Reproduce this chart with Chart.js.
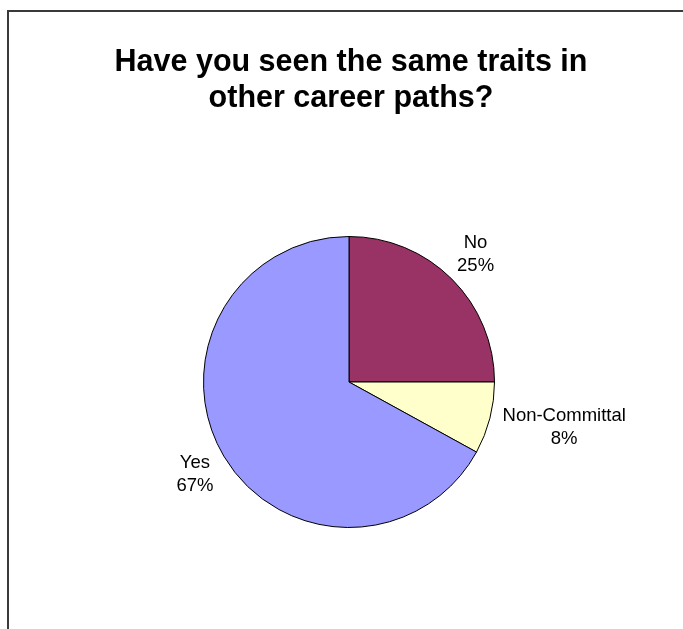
<!DOCTYPE html>
<html>
<head>
<meta charset="utf-8">
<style>
  html, body { margin: 0; padding: 0; background: #ffffff; }
  #wrap { width: 683px; height: 629px; position: relative; }
</style>
<script src="https://cdn.jsdelivr.net/npm/chart.js@4.4.1/dist/chart.umd.min.js"></script>
</head>
<body>
<div id="wrap"><canvas id="chart" width="683" height="629"></canvas></div>
<script>
// Survey answers, in percent
const categories = ['No', 'Non-Committal', 'Yes'];
const percents = [25, 8, 67];
const sliceColors = ['#993366', '#FFFFCC', '#9999FF'];
const titleLines = ['Have you seen the same traits in', 'other career paths?'];

const FONT = '"Liberation Sans", Arial, Helvetica, sans-serif';

// Frame, heading and outside slice labels
const decorations = {
  id: 'decorations',
  beforeDraw(chart) {
    const ctx = chart.ctx;
    ctx.save();
    ctx.fillStyle = '#ffffff';
    ctx.fillRect(0, 0, chart.width, chart.height);
    ctx.strokeStyle = '#3a3a3a';
    ctx.lineWidth = 2;
    ctx.beginPath();
    ctx.moveTo(8, chart.height);
    ctx.lineTo(8, 11);
    ctx.lineTo(chart.width, 11);
    ctx.stroke();

    ctx.fillStyle = '#000000';
    ctx.font = 'bold 30.5px ' + FONT;
    ctx.textAlign = 'center';
    ctx.textBaseline = 'alphabetic';
    titleLines.forEach((line, i) => ctx.fillText(line, 351, 71 + i * 36));
    ctx.restore();
  },
  afterDatasetsDraw(chart) {
    const ctx = chart.ctx;
    const meta = chart.getDatasetMeta(0);
    const total = percents.reduce((a, b) => a + b, 0);
    ctx.save();
    ctx.fillStyle = '#000000';
    ctx.font = '18.5px ' + FONT;
    ctx.textAlign = 'center';
    ctx.textBaseline = 'middle';
    const lineGap = 23;
    meta.data.forEach((arc, i) => {
      const p = arc.getProps(['x', 'y', 'startAngle', 'endAngle', 'outerRadius'], true);
      const mid = (p.startAngle + p.endAngle) / 2;
      const dx = Math.cos(mid), dy = Math.sin(mid);
      const lines = [categories[i], Math.round(percents[i] / total * 100) + '%'];
      const w = Math.max(...lines.map(l => ctx.measureText(l).width));
      const h = lineGap + 18;
      const r = p.outerRadius + 15;
      const cx = p.x + dx * r + dx * w / 2;
      const cy = p.y + dy * r + dy * h / 2;
      lines.forEach((l, k) => ctx.fillText(l, cx, cy + (k - 0.5) * lineGap));
    });
    ctx.restore();
  }
};

new Chart(document.getElementById('chart'), {
  type: 'pie',
  data: {
    labels: categories,
    datasets: [{
      data: percents,
      backgroundColor: sliceColors,
      borderColor: '#000000',
      borderWidth: 1
    }]
  },
  options: {
    responsive: false,
    animation: false,
    layout: { padding: { left: 203, right: 188, top: 236, bottom: 101 } },
    plugins: {
      legend: { display: false },
      title: { display: false },
      tooltip: { enabled: false }
    }
  },
  plugins: [decorations]
});
</script>
</body>
</html>
